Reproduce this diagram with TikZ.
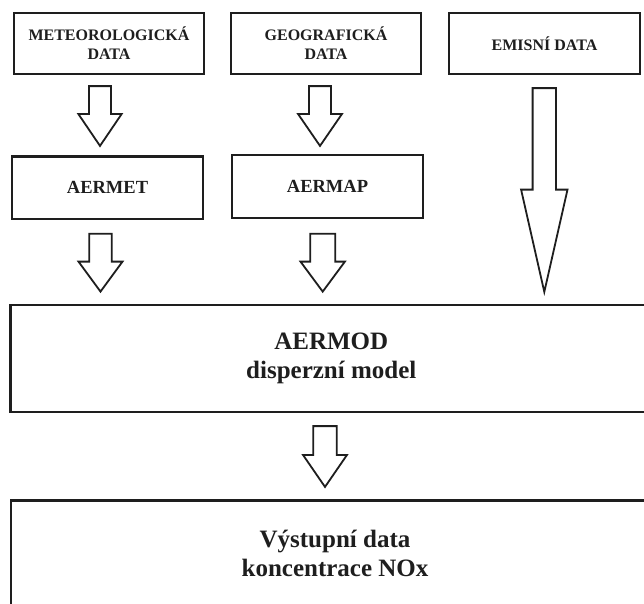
\documentclass[tikz,border=0pt]{standalone}
\usepackage{fontspec}
\setmainfont{Liberation Serif}
\usetikzlibrary{calc}
\definecolor{ink}{HTML}{1E1E1E}
% block arrow: from node, to node, x centre, half shaft, half head, head length, top gap, tip gap
\newcommand\blockarr[8]{%
  \draw[blockarrow] let \p1=(#1.south), \p2=(#2.north), \p3=(#3,0) in
    (\x3-#4pt,\y1-#7pt) -- (\x3+#4pt,\y1-#7pt) -- (\x3+#4pt,\y2+#8pt+#6pt)
    -- (\x3+#5pt,\y2+#8pt+#6pt) -- (\x3,\y2+#8pt) -- (\x3-#5pt,\y2+#8pt+#6pt)
    -- (\x3-#4pt,\y2+#8pt+#6pt) -- cycle;}
\begin{document}
\begin{tikzpicture}[x=1pt,y=-1pt,
  box/.style={draw=ink, line width=2.2pt, rectangle, inner sep=0pt, align=center, text=ink},
  small/.style={font=\fontsize{16}{19}\selectfont\bfseries},
  mid/.style={font=\fontsize{18.5}{22}\selectfont\bfseries},
  big/.style={font=\fontsize{25}{28.5}\selectfont\bfseries},
  blockarrow/.style={draw=ink, line width=1.8pt, fill=white, line join=miter}]
\useasboundingbox (0,0) rectangle (644,603);
\clip (0,0) rectangle (644,603);
\fill[white] (0,0) rectangle (644,603);
\node[box, small, minimum width=190pt, minimum height=61pt] (met) at (109,43.5) {METEOROLOGICKÁ\\DATA};
\node[box, small, minimum width=190pt, minimum height=61pt] (geo) at (326,43.5) {GEOGRAFICKÁ\\DATA};
\node[box, small, minimum width=191pt, minimum height=61pt] (emi) at (544.5,43.5) {EMISNÍ DATA};
\node[box, mid, minimum width=191pt, minimum height=62.5pt] (aermet) at (107.5,187.75) {AERMET};
\node[box, mid, minimum width=191pt, minimum height=63pt] (aermap) at (327.5,186.5) {AERMAP};
\node[box, big, minimum width=641.5pt, minimum height=107pt] (aermod) at (331.25,358.5) {AERMOD\\disperzní model};
\node[box, big, minimum width=648pt, minimum height=105.5pt] (out) at (335,553.25) {Výstupní data\\koncentrace NOx};
\blockarr{met}{aermet}{100}{11}{21.7}{32}{11}{9.5}
\blockarr{geo}{aermap}{320}{11}{22}{32}{11}{8}
\blockarr{aermet}{aermod}{100.5}{11.3}{22}{30}{13.7}{12.3}
\blockarr{aermap}{aermod}{322.7}{12.5}{22.2}{30}{14.7}{12.3}
\blockarr{emi}{aermod}{544.3}{11.7}{23.2}{102.3}{13}{12}
\blockarr{aermod}{out}{325}{11.7}{22}{32}{13}{12.5}
\end{tikzpicture}
\end{document}
